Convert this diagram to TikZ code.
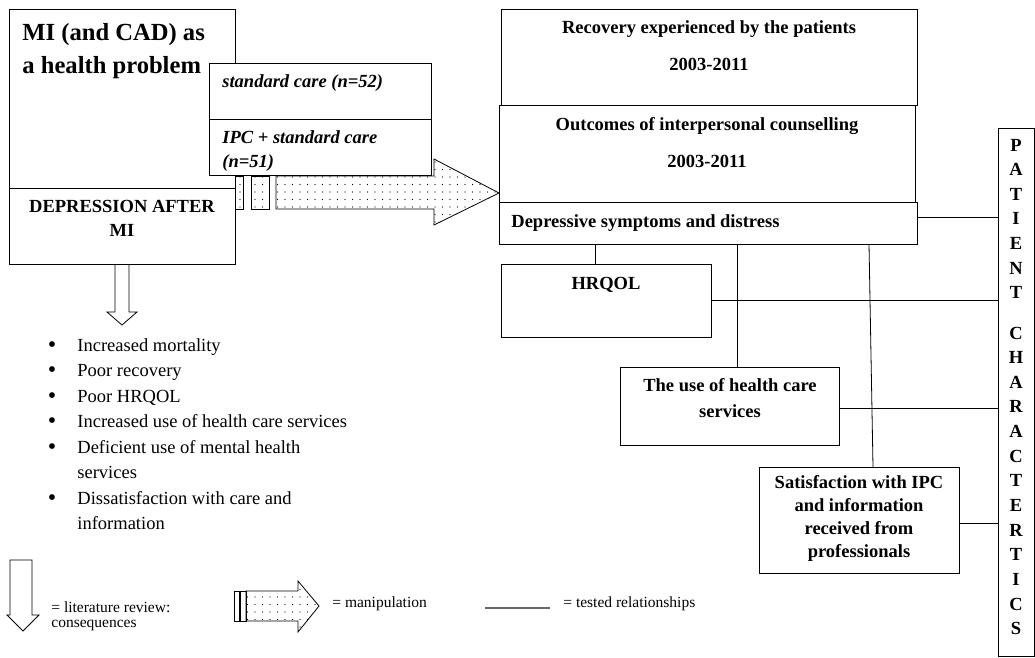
\documentclass[tikz,border=0pt]{standalone}
\usepackage{fontspec}
\setmainfont{Liberation Serif}
\usetikzlibrary{calc}
\usetikzlibrary{patterns.meta}
\tikzset{>=latex}
\tikzset{box/.style = {draw, line width=0.8pt, inner sep=0pt, outer sep=0pt, anchor=north west, fill=white}}
\tikzset{btext/.style = {font=\bfseries\fontsize{18.5}{24}\selectfont, inner sep=0pt, anchor=base}}
\tikzset{bitext/.style = {font=\bfseries\itshape\fontsize{18.5}{24}\selectfont, inner sep=0pt, anchor=base west, align=left}}
\tikzset{rtext/.style = {font=\fontsize{18.5}{25.3}\selectfont, inner sep=0pt, anchor=base west, align=left}}
\tikzset{stext/.style = {font=\fontsize{15.5}{14.5}\selectfont, inner sep=0pt, anchor=base west, align=left}}
\tikzset{link/.style = {line width=0.8pt}}
\tikzset{dotfill/.style = {draw, line width=0.8pt, pattern={Dots[distance=7.5pt, radius=0.6pt]}}}

\begin{document}
\begin{tikzpicture}[x=1pt,y=-1pt,line width=0.8pt]
                    \useasboundingbox (0,0) rectangle (1035,657);

                    % left side
                    \node[box, minimum width=226, minimum height=179] (mitop) at (9,9) {};
                    \node[box, minimum width=226, minimum height=76] (midep) at (9,188) {};
                    \node[font=\bfseries\fontsize{24.6}{33}\selectfont, inner sep=0pt, anchor=base west, align=left] (title) at (22,73) {MI (and CAD) as\\a health problem};
                    \node[btext, align=center] (deptxt) at (122,236) {DEPRESSION AFTER\\MI};

                    \draw[dotfill] (235,176) rectangle (243,209);
                    \draw[dotfill] (251,176) rectangle (269,209);

                    \node[box, minimum width=222, minimum height=56] (std) at (209,63) {};
                    \node[box, minimum width=222, minimum height=56] (ipc) at (209,119) {};
                    \node[bitext] (stdtxt) at (222,87) {standard care (n=52)};
                    \node[bitext] (ipctxt) at (222,167) {IPC + standard care\\(n=51)};

                    \draw (115,264) -- (115,312) -- (107,312) -- (122,325) -- (137,312) -- (129,312) -- (129,264);

                    \foreach \y/\n/\t in {351/0/Increased mortality, 376/0/Poor recovery, 402/0/Poor HRQOL,
                                          427/0/Increased use of health care services,
                                          453/1/Deficient use of mental health\\services,
                                          504/1/Dissatisfaction with care and\\information} {
                      \node[rtext, anchor=base, font=\fontsize{24}{24}\selectfont] (dot\y) at (52,{\y+1}) {\textbullet};
                      \node[rtext] (item\y) at (77,{\y+25.3*\n}) {\t};
                    }

                    % right side
                    \node[box, minimum width=416, minimum height=96] (rec) at (501,9) {};
                    \node[box, minimum width=416, minimum height=97] (outc) at (499,105) {};
                    \node[box, minimum width=418, minimum height=42] (depr) at (499,202) {};
                    \node[box, minimum width=210, minimum height=73] (hrq) at (501,264) {};
                    \node[box, minimum width=219, minimum height=78] (use) at (620,367) {};
                    \node[box, minimum width=200, minimum height=106] (sat) at (759,467) {};
                    \node[box, minimum width=36, minimum height=528] (pat) at (998,128) {};

                    \node[btext, align=center] (rectxt) at (709,70) {Recovery experienced by the patients\\[13pt]2003-2011};
                    \node[btext, align=center] (outctxt) at (707,167) {Outcomes of interpersonal counselling\\[13pt]2003-2011};
                    \node[btext, anchor=base west] (deprtxt) at (511,227) {Depressive symptoms and distress};
                    \node[btext] (hrqtxt) at (606,289) {HRQOL};
                    \node[btext, align=center, font=\bfseries\fontsize{18.5}{26}\selectfont] (usetxt) at (730,417) {The use of health care\\services};
                    \node[btext, align=center, font=\bfseries\fontsize{18.5}{22.7}\selectfont] (sattxt) at (859,557) {Satisfaction with IPC\\and information\\received from\\professionals};

                    \foreach \c [count=\k from 0] in {P,A,T,I,E,N,T}
                      \node[btext] (pa\k) at (1016,{151+24.65*\k}) {\c};
                    \foreach \c [count=\k from 0] in {C,H,A,R,A,C,T,E,R,T,I,C,S}
                      \node[btext] (ch\k) at (1016,{339+24.65*\k}) {\c};

                    % manipulation arrow
                    \coordinate (tip) at ([yshift=9pt]outc.south west);
                    \draw[dotfill] (276,176) -- (434,176) -- (434,159) -- (tip) -- (434,225) -- (434,209) -- (276,209) -- cycle;

                    % tested relationships
                    \draw[link] ([yshift=6pt]depr.east) -- ([yshift=6pt]depr.east -| pat.west);
                    \draw[link] (hrq.east) -- (hrq.east -| pat.west);
                    \draw[link] ([yshift=-2pt]use.east) -- ([yshift=-2pt]use.east -| pat.west);
                    \draw[link] ([yshift=-3pt]sat.east) -- ([yshift=-3pt]sat.east -| pat.west);
                    \draw[link] ([xshift=-11pt]hrq.north) -- ([xshift=-11pt]hrq.north |- depr.south);
                    \draw[link] ([xshift=7.5pt]use.north) -- ([xshift=7.5pt]use.north |- depr.south);
                    \draw[link] ([xshift=14pt]sat.north) -- ([xshift=10pt]sat.north |- depr.south);

                    % legend
                    \draw (10,560) -- (10,615) -- (7,615) -- (23,631) -- (39,615) -- (32,615) -- (32,560) -- cycle;
                    \node[stext] (lgdlit) at (51,627) {= literature review:\\consequences};
                    \draw[dotfill] (234,591) rectangle (239,621);
                    \draw[dotfill] (240,591) rectangle (246,621);
                    \draw[dotfill] (246,591) -- (298,591) -- (298,581) -- (319,606) -- (298,632) -- (298,621) -- (246,621) -- cycle;
                    \node[stext] (lgdman) at (332,607) {= manipulation};
                    \draw[gray!80!black, line width=2pt] (485,608) -- (550,608);
                    \node[stext] (lgdrel) at (563,607) {= tested relationships};
                  \end{tikzpicture}
\end{document}
